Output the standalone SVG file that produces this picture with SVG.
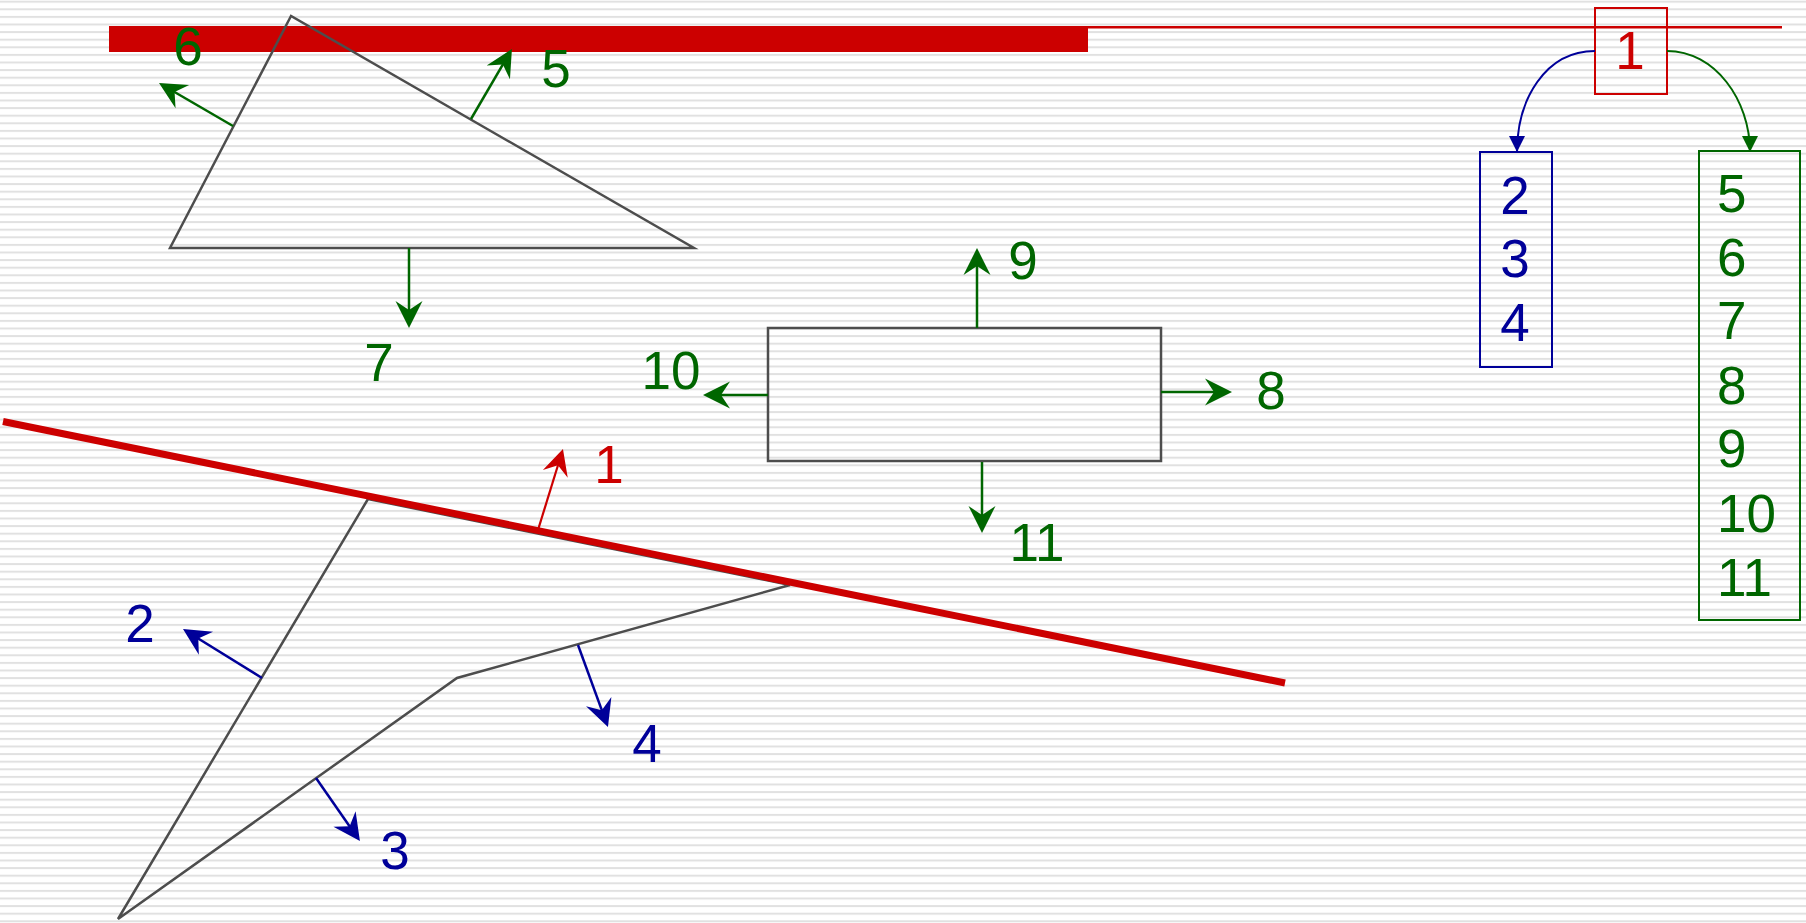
<svg xmlns="http://www.w3.org/2000/svg" width="1806" height="923" viewBox="0 0 1806 923">
<defs>
<pattern id="stripes" patternUnits="userSpaceOnUse" x="0" y="0.7" width="20" height="7.6">
<rect x="0" y="0" width="20" height="2" fill="#e1e1e1"/>
</pattern>
<marker id="agreen" markerUnits="userSpaceOnUse" viewBox="-26 -16 34 32" markerWidth="34" markerHeight="32" refX="0" refY="0" orient="auto">
<path d="M6,0 L-21,-13.5 L-12,0 L-21,13.5 Z" fill="#006600"/>
</marker>
<marker id="ablue" markerUnits="userSpaceOnUse" viewBox="-26 -16 34 32" markerWidth="34" markerHeight="32" refX="0" refY="0" orient="auto">
<path d="M6,0 L-21,-13.5 L-12,0 L-21,13.5 Z" fill="#000099"/>
</marker>
<marker id="ared" markerUnits="userSpaceOnUse" viewBox="-26 -16 34 32" markerWidth="34" markerHeight="32" refX="0" refY="0" orient="auto">
<path d="M6,0 L-20,-13 L-11,0 L-20,13 Z" fill="#cc0000"/>
</marker>
<marker id="tblue" markerUnits="userSpaceOnUse" viewBox="-17 -10 20 20" markerWidth="20" markerHeight="20" refX="0" refY="0" orient="auto">
<path d="M0,0 L-16,-8 L-16,8 Z" fill="#000099"/>
</marker>
<marker id="tgreen" markerUnits="userSpaceOnUse" viewBox="-17 -10 20 20" markerWidth="20" markerHeight="20" refX="0" refY="0" orient="auto">
<path d="M0,0 L-16,-8 L-16,8 Z" fill="#006600"/>
</marker>
</defs>
<style>
.shape{fill:none;stroke:#4d4d4d;stroke-width:2.5}
.g{stroke:#006600;stroke-width:2.5;fill:none;marker-end:url(#agreen)}
.b{stroke:#000099;stroke-width:2.5;fill:none;marker-end:url(#ablue)}
.r{stroke:#cc0000;stroke-width:2.2;fill:none;marker-end:url(#ared)}
text{font-family:"Liberation Sans",Arial,sans-serif;font-size:53px}
.tg{fill:#006600}
.tb{fill:#000099}
.tr{fill:#cc0000}
.m{text-anchor:middle}
</style>
<rect width="1806" height="923" fill="#ffffff"/>
<rect width="1806" height="923" fill="url(#stripes)"/>

<g id="red-bar">
<rect x="109" y="26" width="979" height="26" fill="#cc0000"/>
<line x1="1088" y1="27.3" x2="1782" y2="27.3" stroke="#cc0000" stroke-width="2.5"/>
</g>

<g id="triangle-top">
<polygon class="shape" points="291,16 170,248 694,248"/>
</g>

<g id="rect-middle">
<rect class="shape" x="768" y="328" width="393" height="133"/>
</g>

<g id="polygon-lower">
<polygon class="shape" points="368,499 118,919 457,678 790,585"/>
</g>

<g id="red-line">
<line x1="3" y1="421.5" x2="1285" y2="683" stroke="#cc0000" stroke-width="7"/>
</g>

<g id="box-1">
<rect x="1595" y="8" width="72" height="86" fill="none" stroke="#cc0000" stroke-width="2"/>
<text class="tr m" x="1630" y="69">1</text>
</g>

<g id="box-blue">
<rect x="1480" y="152" width="72" height="215" fill="none" stroke="#000099" stroke-width="2"/>
<text class="tb m" x="1515" y="214">2</text>
<text class="tb m" x="1515" y="277">3</text>
<text class="tb m" x="1515" y="341">4</text>
</g>

<g id="box-green">
<rect x="1699" y="151" width="101" height="469" fill="none" stroke="#006600" stroke-width="2"/>
<text class="tg" x="1717" y="212">5</text>
<text class="tg" x="1717" y="276">6</text>
<text class="tg" x="1717" y="339">7</text>
<text class="tg" x="1717" y="404">8</text>
<text class="tg" x="1717" y="467">9</text>
<text class="tg" x="1717" y="532">10</text>
<text class="tg" x="1717" y="596">11</text>
</g>

<g id="connectors">
<path d="M1595,51 C1545,51 1517,100 1517,152" fill="none" stroke="#000099" stroke-width="2" marker-end="url(#tblue)"/>
<path d="M1667,51 C1715,51 1750,100 1750,152" fill="none" stroke="#006600" stroke-width="2" marker-end="url(#tgreen)"/>
<path class="r" d="M538,530 L561.2,454.7"/>
<path class="b" d="M262,678 L188.1,632.2"/>
<path class="b" d="M316,778 L356.5,836.2"/>
<path class="b" d="M578,645 L605.9,721.4"/>
<path class="g" d="M471,119 L508.9,54.2"/>
<path class="g" d="M233,126 L164.2,86"/>
<path class="g" d="M409,248 L409,322"/>
<path class="g" d="M1161,392 L1226,392"/>
<path class="g" d="M977,328 L977,254"/>
<path class="g" d="M768,395 L709,395"/>
<path class="g" d="M982,462 L982,527"/>
</g>

<g id="labels">
<text class="tr m" x="609" y="483">1</text>
<text class="tb m" x="140" y="642">2</text>
<text class="tb m" x="395" y="869">3</text>
<text class="tb m" x="647" y="762">4</text>
<text class="tg m" x="556" y="87">5</text>
<text class="tg m" x="188" y="65">6</text>
<text class="tg m" x="379" y="381">7</text>
<text class="tg m" x="1271" y="409">8</text>
<text class="tg m" x="1023" y="279">9</text>
<text class="tg m" x="671" y="389">10</text>
<text class="tg m" x="1037" y="561">11</text>
</g>
</svg>
